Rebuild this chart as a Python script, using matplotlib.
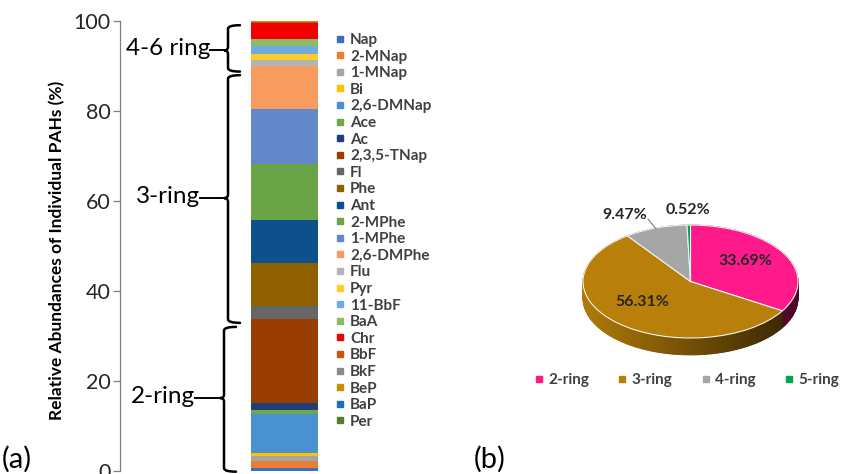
import numpy as np
import matplotlib
matplotlib.use("Agg")
import matplotlib.pyplot as plt
import matplotlib.colors as mcolors
from matplotlib.lines import Line2D
from matplotlib.path import Path
from matplotlib.patches import PathPatch

plt.rcParams['font.family'] = ['Lato', 'DejaVu Sans']

# individual PAHs, stacked from the bottom of the column (%)
compounds = ['Nap', '2-MNap', '1-MNap', 'Bi', '2,6-DMNap', 'Ace', 'Ac', '2,3,5-TNap',
             'Fl', 'Phe', 'Ant', '2-MPhe', '1-MPhe', '2,6-DMPhe',
             'Flu', 'Pyr', '11-BbF', 'BaA', 'Chr',
             'BbF', 'BkF', 'BeP', 'BaP', 'Per']
abundance = [0.60, 1.62, 1.11, 0.60, 8.73, 0.89, 1.49, 18.65,
             2.95, 9.64, 9.39, 12.44, 12.37, 9.52,
             1.33, 1.18, 1.78, 1.71, 3.47,
             0.30, 0.05, 0.05, 0.08, 0.04]
compound_colors = ['#3A6FC4', '#ED7D31', '#A5A5A5', '#FFC000', '#4A91D2', '#6FA84A', '#1F3F7A', '#993D00',
                   '#666666', '#8F6000', '#0E4F8E', '#6AA447', '#6288C9', '#F79C5E',
                   '#B4B4B4', '#FFCC29', '#72A9DE', '#8CBB68', '#F20000',
                   '#C9540E', '#8A8A8A', '#CC8E00', '#1F6DB8', '#4E7F31']

# ring-number groups for the pie (%)
ring_groups = ['2-ring', '3-ring', '4-ring', '5-ring']
ring_share = [33.69, 56.31, 9.47, 0.52]
ring_colors = ['#FF1A8C', '#B8800A', '#A6A6A6', '#00A651']

# curly brackets beside the column
bracket_labels = ['2-ring', '3-ring', '4-6 ring']
bracket_low = [-0.15, 32.9, 88.7]
bracket_high = [32.0, 87.9, 99.0]
bracket_tip = [16.2, 60.6, 93.4]

W, H = 841, 474
fig = plt.figure(figsize=(W / 100, H / 100), dpi=100)

# ---------------- (a) stacked column ----------------
ax = fig.add_axes([120 / W, 3 / H, 210 / W, 450.3 / H])
bottoms = np.concatenate([[0], np.cumsum(abundance)[:-1]])
ax.bar(164.5, abundance, width=67, bottom=bottoms, color=compound_colors, linewidth=0)
ax.set_xlim(0, 210)
ax.set_ylim(0, 100)
ax.set_yticks(range(0, 101, 20))
for s in ['top', 'right', 'bottom']:
    ax.spines[s].set_visible(False)
ax.spines['left'].set_color('#7f7f7f')
ax.spines['left'].set_linewidth(0.9)
ax.set_xticks([])
ax.tick_params(axis='y', direction='out', length=5, width=0.9, color='#7f7f7f',
               labelsize=15.5, labelcolor='#262626', pad=2)


def draw_brace(ax, xb, y0, y1, ytip, arm=12, nib=4, r=0.8):
    verts = [(xb + arm, y1), (xb, y1), (xb, y1 - r),
             (xb, ytip + r), (xb, ytip), (xb - nib, ytip),
             (xb, ytip), (xb, ytip - r),
             (xb, y0 + r), (xb, y0), (xb + arm, y0)]
    codes = [Path.MOVETO, Path.CURVE3, Path.CURVE3,
             Path.LINETO, Path.CURVE3, Path.CURVE3,
             Path.CURVE3, Path.CURVE3,
             Path.LINETO, Path.CURVE3, Path.CURVE3]
    ax.add_patch(PathPatch(Path(verts, codes), fill=False, lw=1.8, ec='black',
                           clip_on=False, capstyle='round'))


brace_x = [104, 108, 108]
label_right = [75, 80, 90]
for lab, lo, hi, tip, xb, xr in zip(bracket_labels, bracket_low, bracket_high,
                                    bracket_tip, brace_x, label_right):
    draw_brace(ax, xb, lo, hi, tip)
    ax.plot([xr, xb - 4], [tip, tip], color='black', lw=1.4, clip_on=False)
    ax.text(xr, tip + 0.4, lab, ha='right', va='center', fontsize=17.5, color='black')

fig.text(57 / W, 1 - 250 / H, 'Relative Abundances of Individual PAHs (%)', rotation=90,
         ha='center', va='center', fontsize=12.5, fontweight='bold', color='black')

handles = [Line2D([], [], marker='s', ls='', color=c, markersize=5) for c in compound_colors]
fig.legend(handles, compounds, loc='upper left', bbox_to_anchor=(334 / W, 1 - 33 / H),
           frameon=False, prop={'size': 11, 'weight': 'bold'}, labelcolor='#404040',
           handlelength=0.75, handletextpad=0.3, labelspacing=0.17, borderpad=0, borderaxespad=0)

fig.text(2 / W, 1 - 459 / H, '(a)', fontsize=21, ha='left', va='center')
fig.text(474 / W, 1 - 459 / H, '(b)', fontsize=21, ha='left', va='center')

# ---------------- (b) 3-D style pie ----------------
axp = fig.add_axes([540 / W, 96.45 / H, 301 / W, 180.8 / H])
depth = 0.30
nlayers = 30

# split each slice into small pieces so the side wall can be shaded by angle
sub_vals, sub_cols = [], []
for v, c in zip(ring_share, ring_colors):
    n = max(1, int(round(v * 1.2)))
    sub_vals += [v / n] * n
    sub_cols += [c] * n
sub_vals = np.array(sub_vals)
mid = (np.cumsum(sub_vals) - sub_vals / 2) / sub_vals.sum() * 2 * np.pi
shade = 0.62 - 0.34 * np.sin(mid)
side_cols = [tuple(np.clip(np.array(mcolors.to_rgb(c)) * s, 0, 1)) for c, s in zip(sub_cols, shade)]

for k in np.linspace(depth, 0.0, nlayers):
    wedges, _ = axp.pie(sub_vals, colors=side_cols, startangle=90, counterclock=False,
                        center=(0, -k), radius=1)
    for w in wedges:
        w.set_edgecolor(w.get_facecolor())
        w.set_linewidth(0.6)

axp.pie(ring_share, colors=ring_colors, startangle=90, counterclock=False,
        wedgeprops={'linewidth': 0.8, 'edgecolor': '#f2f2f2'})

axp.set_aspect('auto')
axp.set_xlim(-1.4, 1.4)
axp.set_ylim(-1.7, 1.5)
axp.axis('off')

label_pos = [(0.512, 0.363), (-0.447, -0.363), (-0.609, 1.177), (-0.023, 1.265)]
for v, (x, y) in zip(ring_share, label_pos):
    axp.text(x, y, f'{v:.2f}%', ha='center', va='center', fontsize=11.5,
             fontweight='bold', color='#262626')
axp.plot([-0.395, -0.321], [1.106, 0.929], color='#7f7f7f', lw=0.8, clip_on=False)

ring_handles = [Line2D([], [], marker='s', ls='', color=c, markersize=4) for c in ring_colors]
fig.legend(ring_handles, ring_groups, loc='center', bbox_to_anchor=(687 / W, 1 - 380 / H),
           ncol=4, frameon=False, prop={'size': 11, 'weight': 'bold'}, labelcolor='#404040',
           handlelength=0.55, handletextpad=0.35, columnspacing=1.9, borderpad=0)

fig.savefig('out.png', dpi=100)
